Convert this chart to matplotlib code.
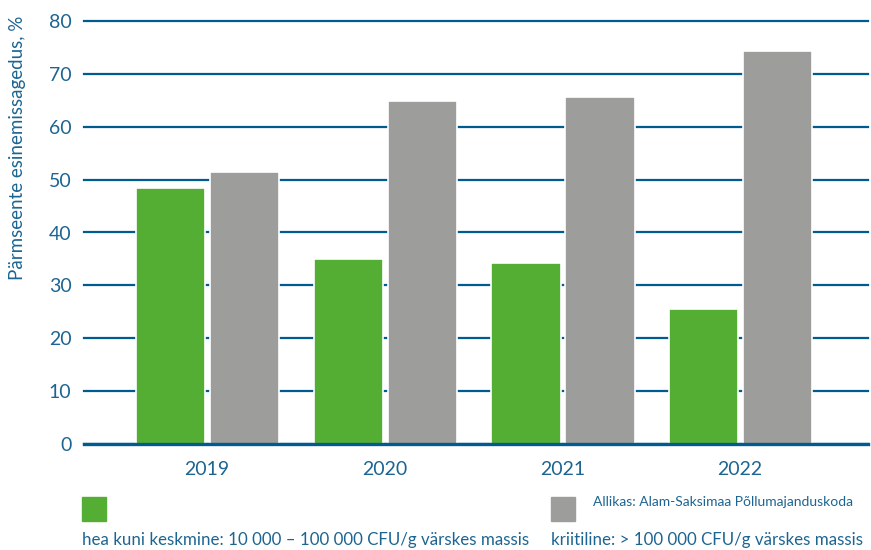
import numpy as np
import matplotlib.pyplot as plt
from matplotlib.patches import Rectangle

years = ["2019", "2020", "2021", "2022"]
good = [48.4, 35.0, 34.2, 25.5]
critical = [51.4, 64.8, 65.6, 74.3]
good_label = "hea kuni keskmine: 10 000 \u2013 100 000 CFU/g v\u00e4rskes massis"
crit_label = "kriitiline: > 100 000 CFU/g v\u00e4rskes massis"
source = "Allikas: Alam-Saksimaa P\u00f5llumajanduskoda"

GREEN = "#55ae34"
GREY = "#9d9d9c"
BLUE = "#005b8f"
TEXT = "#1c6592"

plt.rcParams['font.family'] = ['Lato', 'DejaVu Sans']

fig = plt.figure(figsize=(8.71, 5.5), dpi=100)
ax = fig.add_axes([84 / 871, 106 / 550, 784 / 871, 423 / 550])

x = np.arange(len(years))
w = 0.39
ax.bar(x - 0.205, good, w, color=GREEN, edgecolor="white", linewidth=1.2, zorder=3)
ax.bar(x + 0.211, critical, w, color=GREY, edgecolor="white", linewidth=1.2, zorder=3)

ax.set_xlim(-0.692, 3.72)
ax.set_ylim(0, 80)
ax.set_yticks(range(0, 81, 10))
ax.set_xticks(x)
ax.set_xticklabels(years)
for s in ax.spines.values():
    s.set_visible(False)
ax.grid(axis="y", color=BLUE, linewidth=1.6, zorder=1)
for gl in ax.get_ygridlines():
    gl.set_clip_on(False)
ax.axhline(0, color=BLUE, linewidth=2.4, zorder=4, clip_on=False)
ax.tick_params(axis="both", length=0, colors=TEXT, labelsize=14)
ax.tick_params(axis="y", pad=9)
ax.tick_params(axis="x", pad=12)

fig.text(18 / 871, 1 - 148 / 550, "P\u00e4rmseente esinemissagedus, %", rotation=90,
         ha="center", va="center", color=TEXT, fontsize=13.5)

# legend
fig.add_artist(Rectangle((82 / 871, 1 - 521 / 550), 24 / 871, 24 / 550,
                         transform=fig.transFigure, color=GREEN))
fig.add_artist(Rectangle((551 / 871, 1 - 521 / 550), 24 / 871, 24 / 550,
                         transform=fig.transFigure, color=GREY))
fig.text(82 / 871, 1 - 540 / 550, good_label, color=TEXT, fontsize=12.2, va="center")
fig.text(551 / 871, 1 - 540 / 550, crit_label, color=TEXT, fontsize=12.2, va="center")
fig.text(593 / 871, 1 - 502 / 550, source, color=TEXT, fontsize=10, va="center")

fig.savefig("out.png", dpi=100)
